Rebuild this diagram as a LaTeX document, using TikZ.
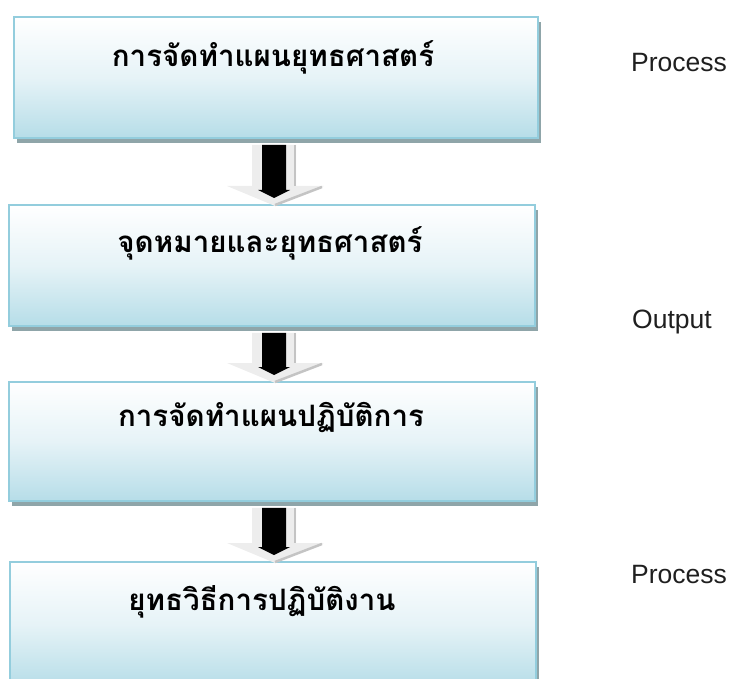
\documentclass[tikz,border=0pt]{standalone}
\usepackage{fontspec}
\setmainfont{Liberation Sans}
\newfontfamily\thaifont[Script=Thai]{Loma}
\usetikzlibrary{calc}
\definecolor{boxborder}{HTML}{93CDDD}
\definecolor{boxbottom}{HTML}{B6DDE8}
\definecolor{boxmid}{HTML}{E6F3F7}
\definecolor{shadowc}{HTML}{8FA5A9}
\definecolor{arrowlight}{HTML}{EDEDED}
\definecolor{arrowdark}{HTML}{C4C4C4}
\newcommand\flowarrow[2]{%
  \fill[arrowlight] let \p1=(ax |- #1.south), \p2=(ax |- #2.north) in
    (\x1-22pt,\y1-6pt) -- (\x1+22pt,\y1-6pt) -- (\x1+22pt,\y2+18pt) -- (\x1+50pt,\y2+18pt)
    -- (\x1+1pt,\y2-2pt) -- (\x1-47pt,\y2+18pt) -- (\x1-22pt,\y2+18pt) -- cycle;
  \draw[arrowdark, line width=1.6pt] let \p1=(ax |- #1.south), \p2=(ax |- #2.north) in
    (\x1+21pt,\y1-6pt) -- (\x1+21pt,\y2+18pt);
  \draw[arrowdark, line width=2.5pt] let \p1=(ax |- #1.south), \p2=(ax |- #2.north) in
    (\x1+48pt,\y2+17pt) -- (\x1+1pt,\y2-1pt);
  \fill[black] let \p1=(ax |- #1.south), \p2=(ax |- #2.north) in
    (\x1-12pt,\y1-6pt) -- (\x1+12pt,\y1-6pt) -- (\x1+12pt,\y2+14pt) -- (\x1+16pt,\y2+14pt)
    -- (\x1,\y2+6pt) -- (\x1-16pt,\y2+14pt) -- (\x1-12pt,\y2+14pt) -- cycle;
}
\begin{document}
\begin{tikzpicture}[x=1pt,y=-1pt,
  flowbox/.style={draw=boxborder, line width=1.8pt, top color=white, bottom color=boxbottom,
    middle color=boxmid, inner sep=0pt, anchor=north west,
    preaction={fill=shadowc, transform canvas={xshift=3pt,yshift=-5pt}}},
  thaitext/.style={font=\thaifont\bfseries\fontsize{29.5}{34}\selectfont, anchor=base, inner sep=0pt},
  sidelabel/.style={font=\fontsize{26.5}{30}\selectfont, anchor=base west, inner sep=0pt, text=black!88}]
\useasboundingbox (0,0) rectangle (731,679);
\coordinate (ax) at (274,0);
\node[flowbox, minimum width=524pt, minimum height=121pt] (b1) at (13,16) {};
\node[flowbox, minimum width=526pt, minimum height=121pt] (b2) at (8,204) {};
\node[flowbox, minimum width=526pt, minimum height=119pt] (b3) at (8,381) {};
\node[flowbox, minimum width=526pt, minimum height=125pt] (b4) at (9,561) {};
\flowarrow{b1}{b2}
\flowarrow{b2}{b3}
\flowarrow{b3}{b4}
\node[thaitext] (t1) at (273,67) {การจัดทำแผนยุทธศาสตร์};
\node[thaitext] (t2) at (270,253) {จุดหมายและยุทธศาสตร์};
\node[thaitext] (t3) at (271,426) {การจัดทำแผนปฏิบัติการ};
\node[thaitext] (t4) at (262,610) {ยุทธวิธีการปฏิบัติงาน};
\node[sidelabel] (l1) at (631,72) {Process};
\node[sidelabel] (l2) at (632,328) {Output};
\node[sidelabel] (l3) at (631,583) {Process};
\end{tikzpicture}
\end{document}
